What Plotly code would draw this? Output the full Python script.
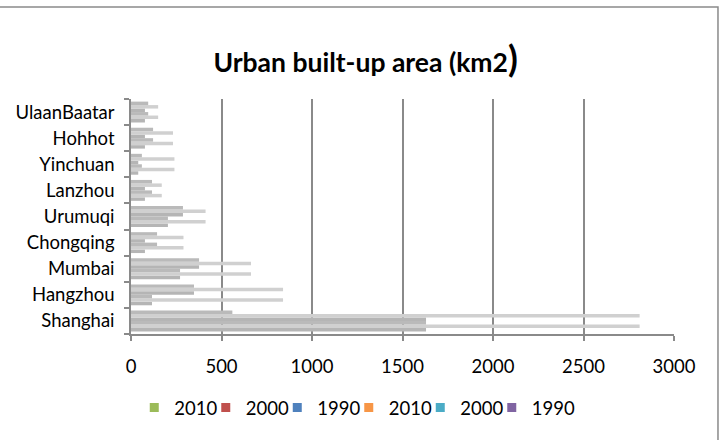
import plotly.graph_objects as go

cities = ["Shanghai", "Hangzhou", "Mumbai", "Chongqing", "Urumuqi",
          "Lanzhou", "Yinchuan", "Hohhot", "UlaanBaatar"]

# six series, bottom bar of each group first
series_names = ["2010", "2000", "1990", "2010", "2000", "1990"]
s1 = [1630, 116, 271, 77, 204, 77, 40, 77, 77]
s2 = [2810, 840, 663, 290, 412, 170, 240, 232, 150]
s3 = [1630, 116, 271, 144, 204, 116, 60, 122, 95]
s4 = [1630, 348, 376, 77, 287, 77, 40, 77, 77]
s5 = [2810, 840, 663, 290, 412, 170, 240, 232, 150]
s6 = [560, 348, 376, 144, 287, 116, 60, 122, 95]
series_values = [s1, s2, s3, s4, s5, s6]

legend_colors = ["#9BBB59", "#C0504D", "#4F81BD", "#F79646", "#4BACC6", "#8064A2"]
bar_colors = ["#b5b5b5", "#d0d0d0", "#bababa", "#b5b5b5", "#d0d0d0", "#bababa"]

x_ticks = [0, 500, 1000, 1500, 2000, 2500, 3000]

font_family = "Lato, Open Sans, sans-serif"

fig = go.Figure()
for vals, col in zip(series_values, bar_colors):
    fig.add_trace(go.Bar(y=cities, x=vals, orientation="h",
                         marker=dict(color=col, line=dict(width=0)),
                         showlegend=False, hoverinfo="x+y"))

for name, col in zip(series_names, legend_colors):
    fig.add_trace(go.Scatter(x=[None], y=[None], mode="markers", name=name,
                             marker=dict(symbol="square", size=9, color=col),
                             showlegend=True))
# empty spacer entry so the last legend label is not clipped
fig.add_trace(go.Scatter(x=[None], y=[None], mode="markers", name=" ",
                         marker=dict(symbol="square", size=9, color="rgba(0,0,0,0)"),
                         showlegend=True, hoverinfo="skip"))

fig.update_layout(
    width=724, height=440,
    margin=dict(l=131, r=50, t=99, b=106),
    paper_bgcolor="white", plot_bgcolor="white",
    barmode="group", bargap=0.2, bargroupgap=0,
    font=dict(family=font_family, size=18.5, color="#000000"),
    title=dict(text="Urban built-up area (km2<span style='font-size:36px'>)</span>",
               x=0.505, xanchor="center", y=0.857, yanchor="middle",
               font=dict(family=font_family, size=26.5, color="#000000", weight="bold")),
    showlegend=True,
    legend=dict(orientation="h", x=0.006, xanchor="left", y=-0.315, yanchor="middle",
                font=dict(size=18.5, family=font_family), entrywidth=26.5,
                itemclick=False, bgcolor="rgba(0,0,0,0)"),
    xaxis=dict(range=[0, 3000], tickvals=x_ticks, showgrid=True,
               gridcolor="#8a8a8a", gridwidth=1.5, showline=True,
               linecolor="#8a8a8a", linewidth=1.5, ticks="outside",
               ticklen=5, tickcolor="#8a8a8a", tickwidth=1.5,
               tickfont=dict(size=18.5), zeroline=False, fixedrange=True,
               ticklabelstandoff=10),
    yaxis=dict(categoryorder="array", categoryarray=cities, showline=True,
               linecolor="#8a8a8a", linewidth=1.5, ticks="outside",
               tickson="boundaries", ticklen=5, tickcolor="#8a8a8a",
               tickwidth=1.5, tickfont=dict(size=18.5), showgrid=False,
               fixedrange=True, ticklabelstandoff=11),
    shapes=[dict(type="rect", xref="paper", yref="paper",
                 x0=-0.245, x1=1.081, y0=-0.48, y1=1.392,
                 line=dict(color="#8a8a8a", width=1.5), fillcolor="rgba(0,0,0,0)",
                 layer="below")],
)

fig.write_html("out.html")
